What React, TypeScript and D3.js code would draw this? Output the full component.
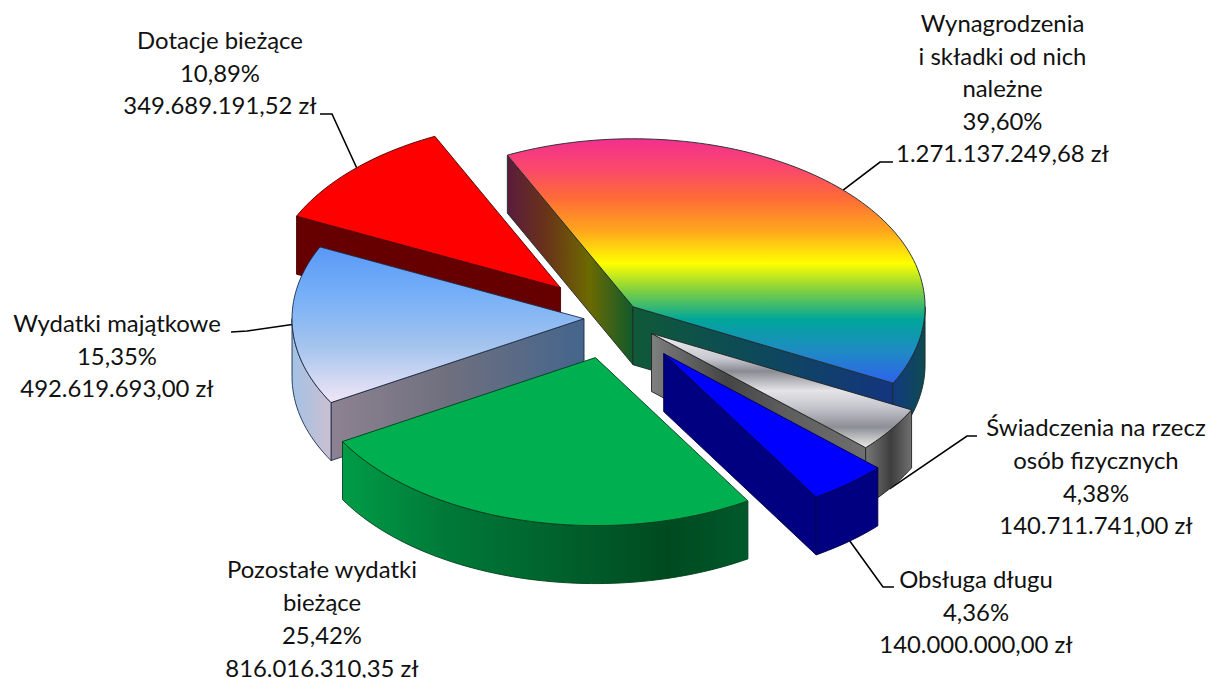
import React from "react";
import * as d3 from "d3";

// ---- data ----
const categories = ["Wynagrodzenia", "Świadczenia", "Obsługa długu", "Pozostałe", "Wydatki majątkowe", "Dotacje bieżące"];
const amounts = [1271137249.68, 140711741.0, 140000000.0, 816016310.35, 492619693.0, 349689191.52];
const labelLines = [
  ["Wynagrodzenia", "i składki od nich", "należne", "39,60%", "1.271.137.249,68 zł"],
  ["Świadczenia na rzecz", "osób fizycznych", "4,38%", "140.711.741,00 zł"],
  ["Obsługa długu", "4,36%", "140.000.000,00 zł"],
  ["Pozostałe wydatki", "bieżące", "25,42%", "816.016.310,35 zł"],
  ["Wydatki majątkowe", "15,35%", "492.619.693,00 zł"],
  ["Dotacje bieżące", "10,89%", "349.689.191,52 zł"],
];

// ---- layout ----
const W = 1211, H = 678;
const CX = 613, CY = 318;
const RX = 292, RY = 168, DEPTH = 58;
const START_DEG = -25.5;
const explode = [28, 47, 80, 71, 29, 74];
const paintOrder = [5, 0, 4, 3, 1, 2];
const labelCenter = [1002.5, 1096, 976, 322, 117, 220];
const labelFirstY = [32, 436, 588, 578, 332, 49];
const lineGap = [32.5, 32.8, 32.5, 33, 32.7, 32.7];
// leader: rim anchor angle (deg) + two screen points
const leaders: { a: number; pts: [number, number][]; depth?: number }[] = [
  { a: 46, pts: [[880, 162], [893, 162]] },
  { a: 125.4, pts: [[967, 436], [977, 436]], depth: 1 },
  { a: 140.4, pts: [[883, 587], [894, 587]], depth: 1 },
  { a: 0, pts: [] },
  { a: 268, pts: [[247, 331], [231, 332]] },
  { a: 315.7, pts: [[332, 114], [320, 114]] },
];

type Stop = [number, string];
const gradients: Record<string, { dir: "v" | "h"; stops: Stop[] }> = {
  wynTop: { dir: "v", stops: [[0, "#f2308f"], [0.13, "#fb4a6a"], [0.24, "#ff6a38"], [0.38, "#ffa81c"], [0.51, "#ffff00"], [0.62, "#80d040"], [0.74, "#00a69a"], [0.87, "#1f8ac4"], [1, "#2f62ee"]] },
  wynStart: { dir: "h", stops: [[0, "#5a1c3c"], [0.32, "#6a3418"], [0.65, "#6c6a00"], [1, "#0f5a2c"]] },
  wynEnd: { dir: "h", stops: [[0, "#0f5a38"], [0.45, "#0d4a58"], [1, "#14357f"]] },
  wynRim: { dir: "h", stops: [[0, "#123a80"], [1, "#0e4a50"]] },
  swTop: { dir: "v", stops: [[0, "#f0f0f4"], [0.22, "#c8c8d0"], [0.33, "#8a8a92"], [0.5, "#e4e4e8"], [0.65, "#c4c4cc"], [0.82, "#8c8f96"], [1, "#ecece8"]] },
  swEnd: { dir: "h", stops: [[0, "#808080"], [0.1, "#6c6c6c"], [0.35, "#454545"], [0.6, "#5c5c5c"], [1, "#6f6f6f"]] },
  swRim: { dir: "h", stops: [[0, "#777777"], [0.55, "#3e3e3e"], [1, "#707070"]] },
  wydTop: { dir: "v", stops: [[0, "#5a98f5"], [0.3, "#75aff8"], [0.65, "#a6c5ee"], [1, "#f2e6f6"]] },
  wydStart: { dir: "h", stops: [[0, "#8d8292"], [0.45, "#70707e"], [1, "#44658c"]] },
  wydRim: { dir: "h", stops: [[0, "#a3c2e6"], [1, "#cbbfd0"]] },
  pozRim: { dir: "h", stops: [[0, "#009c47"], [0.25, "#007a38"], [0.55, "#00602c"], [0.8, "#004a20"], [1, "#00592a"]] },
};
const faceFill = [
  { top: "url(#wynTop)", start: "url(#wynStart)", end: "url(#wynEnd)", rim: "url(#wynRim)", line: "#1c2a2a" },
  { top: "url(#swTop)", start: "#666", end: "url(#swEnd)", rim: "url(#swRim)", line: "#222" },
  { top: "#0000ff", start: "#000080", end: "#000080", rim: "#000080", line: "#00004a" },
  { top: "#00b050", start: "#006a33", end: "#006a33", rim: "url(#pozRim)", line: "#00401c" },
  { top: "url(#wydTop)", start: "url(#wydStart)", end: "#666", rim: "url(#wydRim)", line: "#1c2c48" },
  { top: "#ff0000", start: "#660000", end: "#660000", rim: "#660000", line: "#4a0000" },
];

const rad = (d: number) => (d * Math.PI) / 180;
const line = d3.line<[number, number]>();

const pieGen = d3.pie<number>().sort(null).value((d) => d)
  .startAngle(rad(START_DEG)).endAngle(rad(START_DEG + 360));
const arcs = pieGen(amounts);

const xScale = d3.scaleLinear().domain([-1, 1]).range([-RX, RX]);
const yScale = d3.scaleLinear().domain([-1, 1]).range([RY, -RY]);

function apexOf(i: number): [number, number] {
  const mid = (arcs[i].startAngle + arcs[i].endAngle) / 2;
  const k = RY / RX;
  return [CX + explode[i] * Math.sin(mid), CY - explode[i] * k * Math.cos(mid)];
}
function rimPts(i: number, a0: number, a1: number, dz = 0): [number, number][] {
  const [ax, ay] = apexOf(i);
  const n = Math.max(2, Math.ceil(Math.abs(a1 - a0) / rad(1.5)));
  return d3.range(n + 1).map((j) => {
    const a = a0 + ((a1 - a0) * j) / n;
    return [ax + xScale(Math.sin(a)), ay + yScale(Math.cos(a)) + dz] as [number, number];
  });
}
function wall(p: [number, number][]): [number, number][] {
  return [...p, ...p.slice().reverse().map(([x, y]) => [x, y + DEPTH] as [number, number])];
}

function Slice({ i }: { i: number }) {
  const { startAngle: s, endAngle: e } = arcs[i];
  const apex = apexOf(i);
  const f = faceFill[i];
  const common = { stroke: f.line, strokeWidth: 0.9, strokeLinejoin: "round" as const };
  const rimEdgeS = rimPts(i, s, s)[0];
  const rimEdgeE = rimPts(i, e, e)[0];
  // the rim faces the viewer only between 90deg and 270deg
  const lo = Math.max(s, rad(90));
  const hi = Math.min(e, rad(270));
  return (
    <g>
      {Math.sin(s) < 0 && (
        <path d={line(wall([rimEdgeS, apex])) + "Z"} fill={f.start} {...common} />
      )}
      {Math.sin(e) > 0 && (
        <path d={line(wall([apex, rimEdgeE])) + "Z"} fill={f.end} {...common} />
      )}
      {hi > lo && <path d={line(wall(rimPts(i, lo, hi))) + "Z"} fill={f.rim} {...common} />}
      <path d={line([apex, ...rimPts(i, s, e)]) + "Z"} fill={f.top} {...common} />
    </g>
  );
}

function Leader({ i }: { i: number }) {
  const l = leaders[i];
  if (!l.pts.length) return null;
  const a = rad(l.a);
  const start = rimPts(i, a, a, l.depth ? DEPTH : 0)[0];
  return <path d={line([start, ...l.pts]) ?? ""} fill="none" stroke="#000" strokeWidth={1.6} />;
}

export default function App() {
  return (
    <svg width={W} height={H} viewBox={`0 0 ${W} ${H}`}
      style={{ position: "absolute", left: 0, top: 0, background: "#fff" }}>
      <defs>
        {Object.entries(gradients).map(([id, g]) => (
          <linearGradient key={id} id={id} x1="0" y1="0" x2={g.dir === "h" ? 1 : 0} y2={g.dir === "v" ? 1 : 0}>
            {g.stops.map(([o, c], k) => <stop key={k} offset={o} stopColor={c} />)}
          </linearGradient>
        ))}
      </defs>
      {categories.map((c, i) => <Leader key={c} i={i} />)}
      {paintOrder.map((i) => <Slice key={i} i={i} />)}
      {categories.map((c, i) => (
        <text key={c} textAnchor="middle" fontFamily="Lato, 'Open Sans', sans-serif" fontSize={23.9} fill="#111">
          {labelLines[i].map((t, j) => (
            <tspan key={j} x={labelCenter[i]} y={labelFirstY[i] + j * lineGap[i]}>{t}</tspan>
          ))}
        </text>
      ))}
    </svg>
  );
}
